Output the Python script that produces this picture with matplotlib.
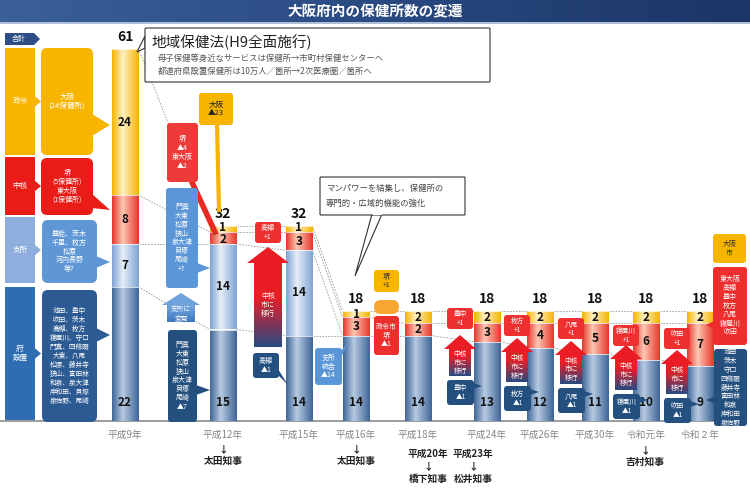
import matplotlib
matplotlib.use("Agg")
import matplotlib.pyplot as plt
import numpy as np
from matplotlib.colors import LinearSegmentedColormap
from matplotlib.patches import FancyBboxPatch, Polygon, Rectangle

plt.rcParams['font.family'] = ['Noto Sans CJK JP', 'DejaVu Sans']

# data (number of health centres by type)
years = ['平成9年', '平成12年', '平成15年', '平成16年', '平成18年',
         '平成24年', '平成26年', '平成30年', '令和元年', '令和２年']
fu_setchi = [22, 15, 14, 14, 14, 13, 12, 11, 10, 9]   # 府設置
shisho = [7, 14, 14, 0, 0, 0, 0, 0, 0, 0]           # 支所
chukaku = [8, 2, 3, 3, 2, 3, 4, 5, 6, 7]            # 中核
seirei = [24, 1, 1, 1, 2, 2, 2, 2, 2, 2]            # 政令

# layout
bar_x = [125, 223, 299, 356, 418, 487, 540, 595, 646, 700]
BAR_W = 27
BASE = 421      # pixel row of the baseline
S = 6.1         # pixels per health centre

seg_cols = [('#3f6697', '#b7cae2'),   # 府設置
            ('#7fa4d2', '#e6eef8'),   # 支所
            ('#e6372c', '#fdc7b3'),   # 中核
            ('#f4b400', '#fff1c4')]   # 政令

fig = plt.figure(figsize=(7.5, 4.97), dpi=100)
ax = fig.add_axes([0, 0, 1, 1])
ov = fig.add_axes([0, 0, 1, 1], zorder=3)
ov.patch.set_alpha(0)
ax.axis('off')
ov.axis('off')


def grad_rect(a, x0, x1, y0, y1, c_edge, c_mid, clip=None, z=2):
    cmap = LinearSegmentedColormap.from_list('g', [(0, c_edge), (0.4, c_mid), (1, c_edge)])
    im = a.imshow(np.linspace(0, 1, 64).reshape(1, -1), cmap=cmap, aspect='auto',
                  extent=[x0, x1, y0, y1], zorder=z, interpolation='bilinear')
    if clip is not None:
        im.set_clip_path(clip)


# ---- stacked bars ----
layers = [fu_setchi, shisho, chukaku, seirei]
totals = np.sum(np.array(layers, dtype=float), axis=0)
bottoms = np.zeros(len(years))
bounds = [bottoms.copy()]
for li, vals in enumerate(layers):
    vals = np.array(vals, dtype=float)
    bars = ax.bar(bar_x, vals, BAR_W, bottom=bottoms, color='none', edgecolor='none', zorder=2)
    for i, b in enumerate(bars):
        if vals[i] == 0:
            continue
        x0 = bar_x[i] - BAR_W / 2
        grad_rect(ax, x0, x0 + BAR_W, bottoms[i], bottoms[i] + vals[i], *seg_cols[li], clip=b)
        if li == 0:
            ty = bottoms[i] + 3
        elif vals[i] <= 2 and totals[i] > 20:
            ty = bottoms[i] + 0.8   # tiny segments: keep labels apart
        else:
            ty = bottoms[i] + vals[i] / 2
        ax.text(bar_x[i], ty, str(int(vals[i])), ha='center', va='center',
                fontsize=8.5, fontweight='bold', color='#111', zorder=4)
        ax.plot([x0, x0 + BAR_W], [bottoms[i] + vals[i]] * 2, color='white', lw=0.5, zorder=3)
    bottoms = bottoms + vals
    bounds.append(bottoms.copy())

for i, t in enumerate(totals):
    ax.text(bar_x[i], t + 2.0, str(int(t)), ha='center', va='center',
            fontsize=10, fontweight='bold', color='#111', zorder=4)

# dashed connectors between neighbouring bars
for i in range(len(years) - 1):
    for k in range(1, 5):
        ya, yb = bounds[k][i], bounds[k][i + 1]
        if k > 1 and bounds[k][i] == bounds[k - 1][i] and bounds[k][i + 1] == bounds[k - 1][i + 1]:
            continue
        ax.plot([bar_x[i] + BAR_W / 2, bar_x[i + 1] - BAR_W / 2], [ya, yb],
                color='#9a9a9a', lw=0.6, ls=(0, (2, 1.5)), zorder=1)

ax.axhline(0, xmin=0, xmax=0.96, color='#8a8a8a', lw=1.2, zorder=1)
ax.set_xlim(0, 750)
ax.set_ylim((BASE - 497) / S, BASE / S)

# x labels
for x, lab in zip(bar_x, years):
    ax.text(x, -14 / S, lab, ha='center', va='center', fontsize=7, color='#888')


# ---- decorations in pixel space ----
def box(x0, y0, x1, y1, txt, fc, tc='white', fs=5, tip=None, bw=8, ec='none', r=3, lw=0.8, z=5):
    ov.add_patch(FancyBboxPatch((x0, y0), x1 - x0, y1 - y0,
                                boxstyle='round,pad=0,rounding_size=%s' % r,
                                fc=fc, ec=ec, lw=lw, zorder=z))
    if tip is not None:
        tx, ty = tip
        if tx > x1:
            cy = min(max(ty, y0 + bw), y1 - bw)
            base = [(x1 - 1, cy - bw / 2), (x1 - 1, cy + bw / 2)]
        elif tx < x0:
            cy = min(max(ty, y0 + bw), y1 - bw)
            base = [(x0 + 1, cy - bw / 2), (x0 + 1, cy + bw / 2)]
        elif ty > y1:
            cx = min(max(tx, x0 + bw), x1 - bw)
            base = [(cx - bw / 2, y1 - 1), (cx + bw / 2, y1 - 1)]
        else:
            cx = min(max(tx, x0 + bw), x1 - bw)
            base = [(cx - bw / 2, y0 + 1), (cx + bw / 2, y0 + 1)]
        ov.add_patch(Polygon([tip] + base, closed=True, fc=fc, ec='none', zorder=z))
    ov.text((x0 + x1) / 2, (y0 + y1) / 2, txt, ha='center', va='center', color=tc,
            fontsize=fs, linespacing=1.15, zorder=z + 1)


def up_arrow(cx, ytip, yhead, ybot, hw, sw, txt, top_c, bot_c, fs=5):
    pts = [(cx, ytip), (cx + hw, yhead), (cx + sw, yhead), (cx + sw, ybot),
           (cx - sw, ybot), (cx - sw, yhead), (cx - hw, yhead)]
    poly = Polygon(pts, closed=True, fc='none', ec='none', zorder=4)
    ov.add_patch(poly)
    cmap = LinearSegmentedColormap.from_list('a', [top_c, top_c, bot_c])
    im = ov.imshow(np.linspace(0, 1, 64).reshape(-1, 1), cmap=cmap, aspect='auto', origin='lower',
                   extent=[cx - hw, cx + hw, ytip, ybot], zorder=4, interpolation='bilinear')
    im.set_clip_path(poly)
    ov.text(cx, (yhead + ybot) / 2, txt, ha='center', va='center', color='white',
            fontsize=fs, linespacing=1.15, zorder=6)


# title bar
cm_t = LinearSegmentedColormap.from_list('t', ['#3b5f98', '#2a4a82', '#1b3566'])
ov.imshow(np.linspace(0, 1, 128).reshape(1, -1), cmap=cm_t, aspect='auto',
          extent=[0, 750, 22, 0], zorder=1)
ov.plot([0, 750], [22.5, 22.5], color='#9fb3d0', lw=1.2, zorder=2)
ov.text(375, 11, '大阪府内の保健所数の変遷', ha='center', va='center', color='white',
        fontsize=10.5, fontweight='bold', zorder=3)

# left legend column
ov.add_patch(Polygon([(5, 33), (34, 33), (40, 39), (34, 45), (5, 45)], fc='#2d4f86', ec='none', zorder=4))
ov.text(19, 39, '合計', color='white', fontsize=5, ha='center', va='center', zorder=5)
legend_rows = [(48, 155, '#f7b500', '政令'), (157, 215, '#ea1c17', '中核'),
               (217, 283, '#8eaedd', '支所'), (287, 420, '#2e6db2', '府\n設置')]
for y0, y1, c, lab in legend_rows:
    ov.add_patch(Rectangle((5, y0), 30, y1 - y0, fc=c, ec='none', zorder=4))
    ov.add_patch(Polygon([(34, (y0 + y1) / 2 - 6), (41, (y0 + y1) / 2), (34, (y0 + y1) / 2 + 6)],
                         fc=c, ec='none', zorder=4))
    ov.text(20, (y0 + y1) / 2, lab, color='white', fontsize=5.5, ha='center', va='center',
            linespacing=1.2, zorder=5)

box(41, 48, 93, 155, '大阪\n(24保健所)', '#f7b500', fs=5.5, tip=(110, 125), bw=22, r=6)
box(41, 158, 93, 215, '堺\n(5保健所)\n東大阪\n(1保健所)', '#ea1c17', fs=5, tip=(110, 210), bw=14, r=6)
box(42, 220, 97, 283, '豊能、茨木\n千里、枚方\n松原\n河内長野\n等7', '#5f97d6', fs=5, tip=(110, 262), bw=12, r=6)
box(42, 290, 97, 422,
    '池田、豊中\n吹田、茨木\n高槻、枚方\n寝屋川、守口\n門真、四條畷\n大東、八尾\n松原、藤井寺\n'
    '狭山、富田林\n和泉、泉大津\n岸和田、貝塚\n泉佐野、尾崎',
    '#2c5a93', fs=4.8, tip=(110, 335), bw=14, r=6)

# law callout
ov.add_patch(Polygon([(145, 36), (137, 52), (145, 48)], fc='white', ec='#333', lw=0.8, zorder=5))
box(145, 28, 490, 82, '', 'white', ec='#333', r=1, z=5)
ov.add_patch(Rectangle((145.8, 37), 2, 10, fc='white', ec='none', zorder=6))
ov.text(151, 42, '地域保健法(H9全面施行)', fontsize=10.5, color='#222', va='center', zorder=7)
ov.text(158, 58, '母子保健等身近なサービスは保健所→市町村保健センターへ', fontsize=6,
        color='#555', va='center', zorder=7)
ov.text(158, 71, '都道府県設置保健所は10万人／箇所→2次医療圏／箇所へ', fontsize=6,
        color='#555', va='center', zorder=7)

# H12 changes
ov.plot([217, 219], [124, 210], color='#f4b400', lw=3, zorder=4)
box(199, 93, 233, 125, '大阪\n▲23', '#f7b500', tc='#222', fs=5.5)
ov.plot([190, 215], [178, 232], color='#ea2a22', lw=4, zorder=4)
box(167, 123, 198, 182, '堺\n▲4\n東大阪\n▲2', '#ef3a3a', fs=5)
box(166, 188, 198, 288, '門真\n大東\n松原\n狭山\n泉大津\n貝塚\n尾崎\n+7', '#5b96d8', fs=5,
    tip=(210, 268), bw=10)
up_arrow(181, 293, 305, 322, 19, 14, '支所に\n変更', '#6fa2dc', '#3f78bf', fs=4.8)
box(168, 330, 197, 422, '門真\n大東\n松原\n狭山\n泉大津\n貝塚\n尾崎\n▲7', '#24507f', fs=5,
    tip=(210, 390), bw=10)

# H15 changes
box(255, 222, 281, 243, '高槻\n+1', '#ee3030', fs=5)
up_arrow(268, 247, 263, 347, 21, 14, '中核\n市に\n移行', '#ea1d25', '#2a4a80')
box(253, 353, 279, 378, '高槻\n▲1', '#24507f', fs=5, tip=(288, 385), bw=6)
box(315, 348, 342, 385, '支所\n統合\n▲14', '#5b96d8', fs=5, tip=(350, 340), bw=6)

# manpower callout
ov.add_patch(Polygon([(372, 214), (355, 276), (382, 214)], fc='white', ec='#333', lw=0.8, zorder=5))
box(320, 177, 465, 215, '', 'white', ec='#333', r=1, z=5)
ov.add_patch(Rectangle((373, 212), 8.5, 3, fc='white', ec='none', zorder=6))
ov.text(326, 188, 'マンパワーを結集し、保健所の', fontsize=6, color='#444', va='center', zorder=7)
ov.text(326, 203, '専門的・広域的機能の強化', fontsize=6, color='#444', va='center', zorder=7)

# H18 changes
box(374, 270, 399, 292, '堺\n+1', '#f7b500', tc='#333', fs=5)
ov.add_patch(FancyBboxPatch((374, 300), 25, 14, boxstyle='round,pad=0,rounding_size=7',
                            fc='#f8a531', ec='none', zorder=4))
box(374, 316, 399, 355, '政令市\n堺\n▲1', '#ee2d2d', fs=5)

# core city transitions
transitions = [(460, '豊中', 308, 335, 380), (517, '枚方', 315, 338, 386),
               (571, '八尾', 318, 341, 388), (626, '寝屋川', 325, 345, 394),
               (677, '吹田', 328, 350, 398)]
for cx, name, ry, ay, by in transitions:
    box(cx - 13, ry, cx + 13, ry + 21, name + '\n+1', '#ee3030', fs=4.8)
    up_arrow(cx, ay, ay + 14, by - 4, 16, 11, '中核\n市に\n移行', '#ea1d25', '#2a4a80', fs=4.8)
    box(cx - 13, by, cx + 14, by + 25, name + '\n▲1', '#24507f', fs=4.8, tip=(cx + 22, by + 6), bw=6)

# right hand lists
box(713, 234, 746, 263, '大阪\n市', '#f7b500', tc='#333', fs=5)
box(713, 267, 747, 345, '東大阪\n高槻\n豊中\n枚方\n八尾\n寝屋川\n吹田', '#ee2d2d', fs=5,
    tip=(706, 325), bw=8)
box(714, 349, 747, 426, '池田\n茨木\n守口\n四條畷\n藤井寺\n富田林\n和泉\n岸和田\n泉佐野', '#24507f',
    fs=4.8, tip=(706, 400), bw=8)

# governors
gov = [(223, 455, '↓\n太田知事'), (356, 455, '↓\n太田知事'), (645, 456, '↓\n吉村知事'),
       (428, 466, '平成20年\n↓\n橋下知事'), (473, 466, '平成23年\n↓\n松井知事')]
for x, y, t in gov:
    ov.text(x, y, t, ha='center', va='center', fontsize=7, fontweight='bold',
            color='#222', linespacing=1.3, zorder=5)

ov.set_xlim(0, 750)
ov.set_ylim(497, 0)

fig.savefig('out.png', dpi=100)
